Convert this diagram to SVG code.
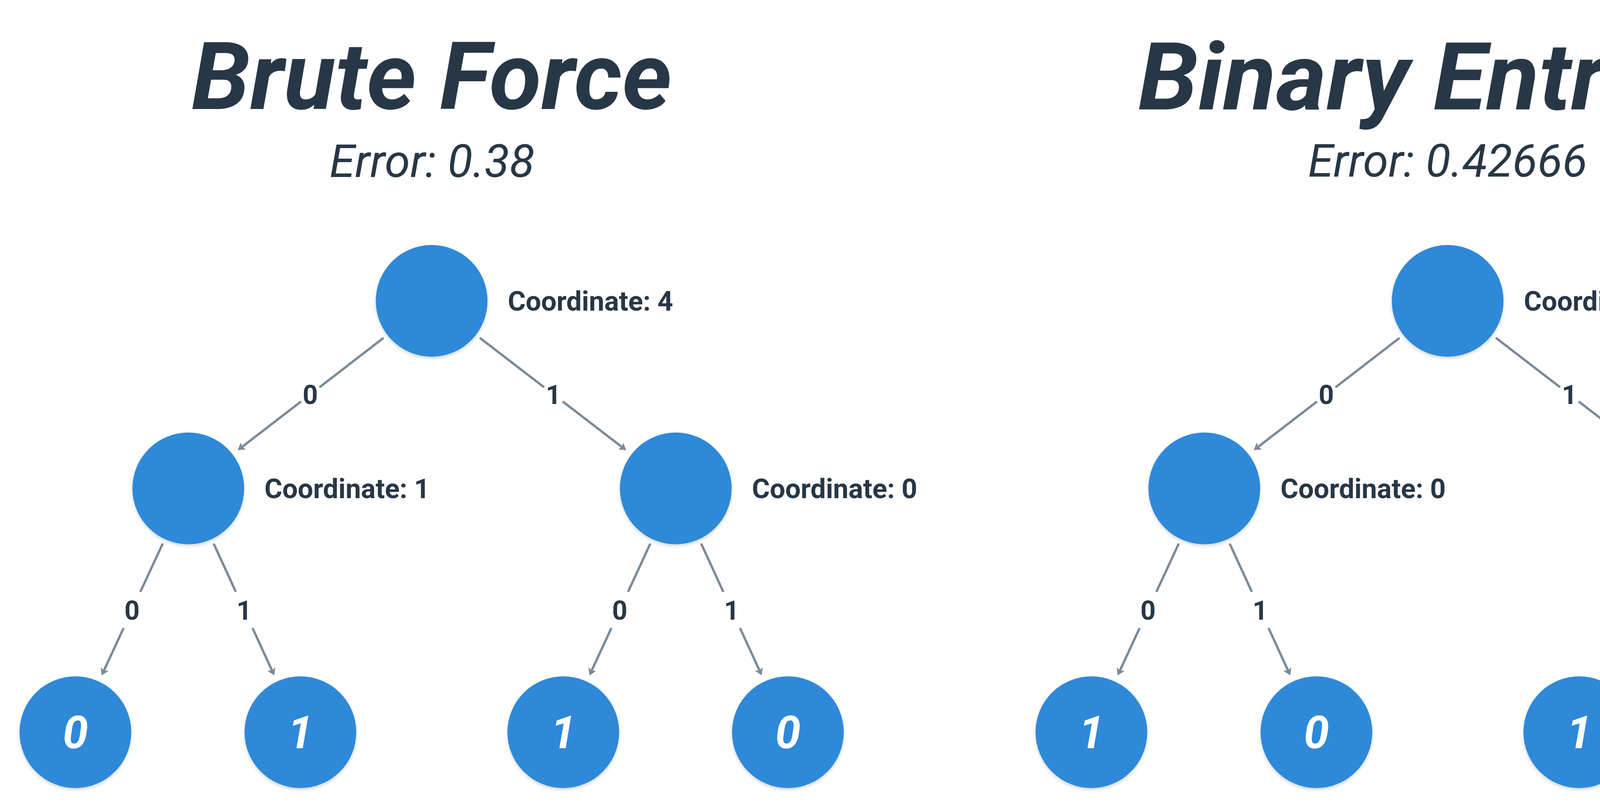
<svg xmlns="http://www.w3.org/2000/svg" width="5012" height="2068" viewBox="0 0 5012 2068">
<defs>
<style>
text{font-family:Roboto,"Liberation Sans",sans-serif;fill:#273746}
.title{font-size:240px;font-weight:700;font-style:italic;text-anchor:middle}
.sub{font-size:117px;font-weight:400;font-style:italic;text-anchor:middle}
.coord{font-size:70px;font-weight:700}
.elabel{font-size:68px;font-weight:700;text-anchor:middle}
.leaf{font-size:117px;font-weight:700;font-style:italic;text-anchor:middle;fill:#ffffff}
.node{fill:#2e89d9;filter:url(#sh)}
.edge{stroke:#7b8a98;stroke-width:6;stroke-linecap:round;fill:none}
.arr{marker-end:url(#ah)}
</style>
<filter id="sh" x="-20%" y="-20%" width="140%" height="150%">
<feDropShadow dx="0" dy="4" stdDeviation="4" flood-color="#000" flood-opacity="0.18"/>
</filter>
<marker id="ah" markerUnits="userSpaceOnUse" viewBox="-10 -14 24 28" refX="0" refY="0" markerWidth="24" markerHeight="28" orient="auto">
<path d="M-8,-11 L10,0 L-8,11 L-4,0 z" fill="#7b8a98"/>
</marker>
</defs>
<rect width="5012" height="2068" fill="#ffffff"/>

<g id="titles">
<text class="title" x="1105" y="279" textLength="1230" lengthAdjust="spacingAndGlyphs">Brute Force</text>
<text class="sub" x="1106" y="453" textLength="525" lengthAdjust="spacingAndGlyphs">Error: 0.38</text>
<text class="title" x="3706" y="280" textLength="1585" lengthAdjust="spacingAndGlyphs">Binary Entropy</text>
<text class="sub" x="3706" y="452" textLength="715" lengthAdjust="spacingAndGlyphs">Error: 0.42666</text>
</g>

<g id="connectors">
<path class="edge" d="M979.8,866.4 L820.0,989.6"/>
<path class="edge arr" d="M768.6,1029.2 L616.6,1146.2"/>
<text class="elabel" x="794.3" y="1034">0</text>
<path class="edge" d="M1230.3,866.2 L1390.9,989.6"/>
<path class="edge arr" d="M1442.5,1029.2 L1595.2,1146.4"/>
<text class="elabel" x="1416.7" y="1034">1</text>
<path class="edge" d="M415.6,1393.4 L360.4,1512.6"/>
<path class="edge arr" d="M315.4,1609.6 L264.4,1719.7"/>
<text class="elabel" x="337.9" y="1586">0</text>
<path class="edge" d="M548.0,1393.5 L602.7,1512.5"/>
<path class="edge arr" d="M647.5,1609.7 L697.9,1719.5"/>
<text class="elabel" x="625.1" y="1586">1</text>
<path class="edge" d="M1663.8,1393.5 L1608.8,1512.5"/>
<path class="edge arr" d="M1564.0,1609.7 L1513.2,1719.6"/>
<text class="elabel" x="1586.4" y="1586">0</text>
<path class="edge" d="M1796.0,1393.5 L1850.7,1512.5"/>
<path class="edge arr" d="M1895.5,1609.7 L1945.9,1719.5"/>
<text class="elabel" x="1873.1" y="1586">1</text>

<path class="edge" d="M3580.8,866.4 L3421.0,989.6"/>
<path class="edge arr" d="M3369.6,1029.2 L3217.6,1146.2"/>
<text class="elabel" x="3395.3" y="1034">0</text>
<path class="edge" d="M3831.3,866.2 L3991.9,989.6"/>
<path class="edge arr" d="M4043.5,1029.2 L4196.2,1146.4"/>
<text class="elabel" x="4017.7" y="1034">1</text>
<path class="edge" d="M3016.6,1393.4 L2961.4,1512.6"/>
<path class="edge arr" d="M2916.4,1609.6 L2865.4,1719.7"/>
<text class="elabel" x="2938.9" y="1586">0</text>
<path class="edge" d="M3149.0,1393.5 L3203.7,1512.5"/>
<path class="edge arr" d="M3248.5,1609.7 L3298.9,1719.5"/>
<text class="elabel" x="3226.1" y="1586">1</text>
<path class="edge" d="M4264.8,1393.5 L4209.8,1512.5"/>
<path class="edge arr" d="M4165.0,1609.7 L4114.2,1719.6"/>
<text class="elabel" x="4187.4" y="1586">0</text>
<path class="edge" d="M4397.0,1393.5 L4451.7,1512.5"/>
<path class="edge arr" d="M4496.5,1609.7 L4546.9,1719.5"/>
<text class="elabel" x="4474.1" y="1586">1</text>
</g>

<g id="bf-root"><circle class="node" cx="1105" cy="770" r="143"/><text class="coord" x="1300" y="795">Coordinate: 4</text></g>
<g id="bf-n0"><circle class="node" cx="482" cy="1250" r="143"/><text class="coord" x="677" y="1275">Coordinate: 1</text></g>
<g id="bf-n1"><circle class="node" cx="1730" cy="1250" r="143"/><text class="coord" x="1925" y="1275">Coordinate: 0</text></g>
<g id="bf-l00"><circle class="node" cx="193" cy="1874" r="143"/><text class="leaf" x="193" y="1915">0</text></g>
<g id="bf-l01"><circle class="node" cx="769" cy="1874" r="143"/><text class="leaf" x="769" y="1915">1</text></g>
<g id="bf-l10"><circle class="node" cx="1442" cy="1874" r="143"/><text class="leaf" x="1442" y="1915">1</text></g>
<g id="bf-l11"><circle class="node" cx="2017" cy="1874" r="143"/><text class="leaf" x="2017" y="1915">0</text></g>

<g id="be-root"><circle class="node" cx="3706" cy="770" r="143"/><text class="coord" x="3901" y="795">Coordinate: 3</text></g>
<g id="be-n0"><circle class="node" cx="3083" cy="1250" r="143"/><text class="coord" x="3278" y="1275">Coordinate: 0</text></g>
<g id="be-n1"><circle class="node" cx="4331" cy="1250" r="143"/><text class="coord" x="4526" y="1275">Coordinate: 1</text></g>
<g id="be-l00"><circle class="node" cx="2794" cy="1874" r="143"/><text class="leaf" x="2794" y="1915">1</text></g>
<g id="be-l01"><circle class="node" cx="3370" cy="1874" r="143"/><text class="leaf" x="3370" y="1915">0</text></g>
<g id="be-l10"><circle class="node" cx="4043" cy="1874" r="143"/><text class="leaf" x="4043" y="1915">1</text></g>
<g id="be-l11"><circle class="node" cx="4618" cy="1874" r="143"/><text class="leaf" x="4618" y="1915">1</text></g>
</svg>
